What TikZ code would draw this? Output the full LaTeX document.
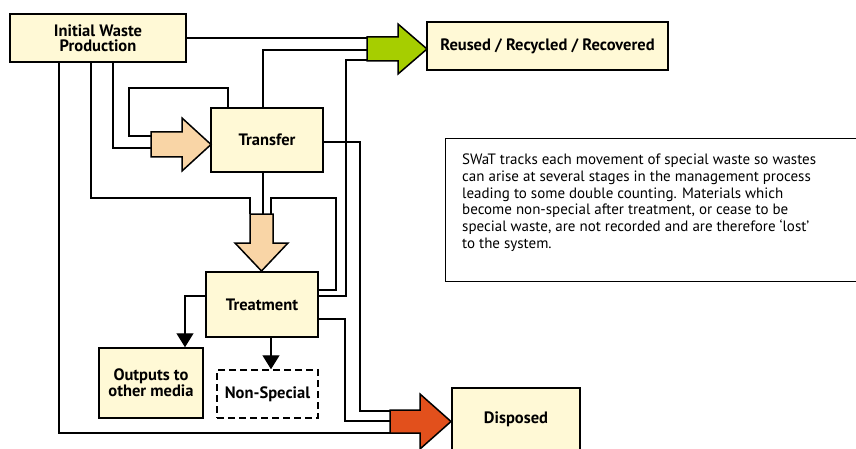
\documentclass[tikz,border=0pt]{standalone}
\usepackage{fontspec}
\setmainfont{PT Sans}
\usetikzlibrary{arrows.meta}
\definecolor{boxfill}{RGB}{255,249,214}
\definecolor{greenarrow}{RGB}{166,206,0}
\definecolor{peacharrow}{RGB}{249,213,166}
\definecolor{redarrow}{RGB}{226,80,28}
\begin{document}
\begin{tikzpicture}[x=1pt,y=-1pt,
  stagebox/.style={draw, line width=1.5pt, fill=boxfill, inner sep=0pt,
    align=center, font=\bfseries\fontsize{16.5}{15}\selectfont},
  lostbox/.style={stagebox, fill=white, dashed, dash pattern=on 7pt off 4pt},
  blockarrow/.style={draw, line width=1.5pt, line join=miter},
  flow/.style={line width=1.3pt},
  flowarrow/.style={flow, -{Triangle[width=17pt,length=14pt]}}]
\clip (0,0) rectangle (856,449);
\fill[white] (0,0) rectangle (856,449);

% stages
\node[stagebox, minimum width=176pt, minimum height=48pt] (iwp) at (98,38)
  {Initial Waste\\Production};
\node[stagebox, minimum width=241pt, minimum height=48pt] (reused) at (547.5,46)
  {Reused / Recycled / Recovered};
\node[stagebox, minimum width=112pt, minimum height=64pt] (transfer) at (267,140)
  {Transfer};
\node[stagebox, minimum width=112pt, minimum height=65pt] (treatment) at (262,304.5)
  {Treatment};
\node[stagebox, minimum width=104pt, minimum height=70pt] (outputs) at (151,383)
  {Outputs to\\other media};
\node[lostbox, minimum width=101pt, minimum height=48pt] (nonspecial) at (267.5,394)
  {Non-Special};
\node[stagebox, minimum width=128pt, minimum height=62pt] (disposed) at (516,419)
  {Disposed};

% note
\node[draw, line width=1.3pt, minimum width=413pt, minimum height=143pt,
  anchor=north west] (note) at (445,138) {};
\node[anchor=north west, inner sep=0pt, align=left,
  font=\fontsize{15}{16.7}\selectfont] (notetext) at (462,154)
  {SWaT tracks each movement of special waste so wastes\\
   can arise at several stages in the management process\\
   leading to some double counting. Materials which\\
   become non-special after treatment, or cease to be\\
   special waste, are not recorded and are therefore ‘lost’\\
   to the system.};

% block arrows and their inlets
\draw[blockarrow, fill=greenarrow] (367,37) -- (398,37) -- (398,24) -- (427,49)
  -- (398,74) -- (398,61) -- (367,61) -- cycle;
\coordinate (gin1) at (367,38);
\coordinate (gin2) at (367,50);
\coordinate (gin3) at (367,60);

\draw[blockarrow, fill=peacharrow] (151,132) -- (182,132) -- (182,118) -- (211,144.5)
  -- (182,171) -- (182,157) -- (151,157) -- cycle;
\coordinate (pin1) at (151,136);
\coordinate (pin2) at (151,148);

\draw[blockarrow, fill=peacharrow] (250,214) -- (273,214) -- (273,243) -- (288,243)
  -- (261.5,271) -- (235,243) -- (250,243) -- cycle;
\coordinate (din1) at (250,214);
\coordinate (din2) at (263,214);
\coordinate (din3) at (271,214);

\draw[blockarrow, fill=redarrow] (390,410) -- (420,410) -- (420,394) -- (451,421.5)
  -- (420,449) -- (420,433) -- (390,433) -- cycle;
\coordinate (rin1) at (390,411);
\coordinate (rin2) at (390,421);
\coordinate (rin3) at (390,433);

% flows
\draw[flow] (iwp.east) -- (gin1);
\draw[flow] (263,0 |- transfer.north) |- (gin2);
\draw[flow] (treatment.east |- 0,296) -| (346,60) -- (gin3);
\draw[flow] (113,0 |- iwp.south) |- (pin2);
\draw[flow] (228,0 |- transfer.north) -- (228,88) -| (129,136) -- (pin1);
\draw[flow] (91,0 |- iwp.south) |- (250,198) -- (din1);
\draw[flow] (263,0 |- transfer.south) -- (din2);
\draw[flow] (treatment.east |- 0,290) -| (336,198) -| (din3);
\draw[flow] (transfer.east |- 0,142) -- (360,142) |- (rin1);
\draw[flow] (treatment.east |- 0,319) -- (345,319) |- (rin2);
\draw[flow] (59,0 |- iwp.south) |- (rin3);
\draw[flowarrow] (treatment.west |- 0,296) -| (185,0 |- outputs.north);
\draw[flowarrow] (271,0 |- treatment.south) -- (271,0 |- nonspecial.north);
\end{tikzpicture}
\end{document}
